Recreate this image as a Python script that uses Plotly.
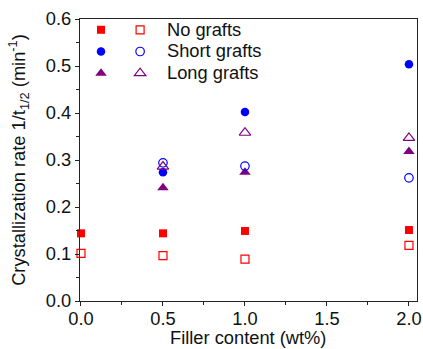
import plotly.graph_objects as go

filler = [0.0, 0.5, 1.0, 2.0]
no_grafts_filled = [0.144, 0.144, 0.149, 0.151]
no_grafts_open = [0.1015, 0.0965, 0.089, 0.1185]
short_filled = [None, 0.274, 0.402, 0.5035]
short_open = [None, 0.294, 0.287, 0.262]
long_filled = [None, 0.241, 0.274, 0.318]
long_open = [None, 0.286, 0.358, 0.347]
legend_labels = ["No grafts", "Short grafts", "Long grafts"]
x_title = "Filler content (wt%)"
y_title = "Crystallization rate 1/t<sub>1/2</sub> (min<sup>-1</sup>)"

RED = "#ff0000"
BLUE = "#0000ff"
PURPLE = "#800080"
FONT = "Liberation Sans, Arial, sans-serif"
FS = 18.3

fig = go.Figure()

filled = [(no_grafts_filled, "square", RED, 8), (short_filled, "circle", BLUE, 8.5), (long_filled, "triangle-up", PURPLE, 10)]
opened = [(no_grafts_open, "square-open", RED, 8), (short_open, "circle-open", BLUE, 8.5),
          (long_open, "triangle-up-open", PURPLE, 10)]

for ys, sym, col, sz in filled:
    fig.add_trace(go.Scatter(x=filler, y=ys, mode="markers", name=" ",
                             marker=dict(symbol=sym, color=col, size=sz, line=dict(width=0)),
                             legend="legend", cliponaxis=False))
for ys, sym, col, sz in opened:
    fig.add_trace(go.Scatter(x=filler, y=ys, mode="markers", name=" ",
                             marker=dict(symbol=sym, color=col, size=sz, line=dict(width=1.2, color=col)),
                             legend="legend2", cliponaxis=False))

row_y = [1 - (29.5 - 19) / 282, 1 - (51 - 19) / 282, 1 - (73 - 19) / 282]
for lab, yy in zip(legend_labels, row_y):
    fig.add_annotation(text=lab, xref="paper", yref="paper", x=(165 - 80) / 337, y=yy,
                       xanchor="left", yanchor="middle", showarrow=False,
                       font=dict(family=FONT, size=FS, color="#111"))

fig.add_annotation(text=x_title, xref="paper", yref="paper", x=(248 - 80) / 337, y=(301 - 348.5) / 282,
                   xanchor="center", yanchor="bottom", showarrow=False, borderpad=0,
                   font=dict(family=FONT, size=FS, color="#111"))

def axis_common(dminor):
    return dict(showline=True, linecolor="#222", linewidth=1.2, mirror=True, showgrid=False, zeroline=False,
                ticks="outside", ticklen=4, tickwidth=1, tickcolor="#222", automargin=False,
                tickfont=dict(family=FONT, size=FS, color="#111"),
                minor=dict(ticks="outside", ticklen=3, tickwidth=1, tickcolor="#222", dtick=dminor))

fig.update_layout(
    width=423, height=349,
    margin=dict(l=80, r=6, t=19, b=48),
    plot_bgcolor="white", paper_bgcolor="white",
    font=dict(family=FONT, size=FS, color="#111"),
    xaxis=dict(range=[-0.006, 2.049], tickvals=[0, 0.5, 1.0, 1.5, 2.0],
               ticktext=["0.0", "0.5", "1.0", "1.5", "2.0"], ticklabelstandoff=-3,
               **axis_common(0.25)),
    yaxis=dict(range=[0, 0.6], tickvals=[0, 0.1, 0.2, 0.3, 0.4, 0.5, 0.6],
               ticktext=["0.0", "0.1", "0.2", "0.3", "0.4", "0.5", "0.6"],
               title=dict(text=y_title, font=dict(size=FS)),
               **axis_common(0.05)),
    legend=dict(x=0.003, y=1.018, xanchor="left", yanchor="top", bgcolor="rgba(0,0,0,0)",
                font=dict(family=FONT, size=14.4), tracegroupgap=0),
    legend2=dict(x=0.119, y=1.018, xanchor="left", yanchor="top", bgcolor="rgba(0,0,0,0)",
                 font=dict(family=FONT, size=14.4), tracegroupgap=0),
)

fig.write_html("out.html")
